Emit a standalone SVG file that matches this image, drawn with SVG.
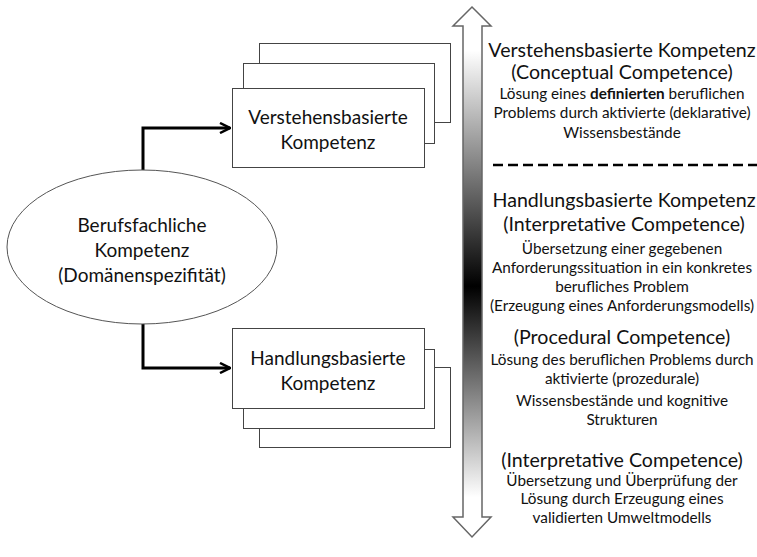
<svg xmlns="http://www.w3.org/2000/svg" width="757" height="557" viewBox="0 0 757 557">
<style>
.box{fill:#fff;stroke:#444;stroke-width:1}
.ell{fill:#fff;stroke:#555;stroke-width:1}
.conn{fill:none;stroke:#000;stroke-width:3}
.big{font-family:Lato,"Liberation Sans",sans-serif;font-size:19px;fill:#111;text-anchor:middle}
.bigr{font-family:Lato,"Liberation Sans",sans-serif;font-size:19.6px;fill:#111;text-anchor:middle}
.small{font-family:Lato,"Liberation Sans",sans-serif;font-size:15.3px;fill:#111;text-anchor:middle}
</style>
<defs>
<marker id="arr" viewBox="0 0 12 12" refX="11" refY="6" markerWidth="12" markerHeight="12" markerUnits="userSpaceOnUse" orient="auto">
<path d="M1,1 L11,6 L1,11" fill="none" stroke="#000" stroke-width="2.5"/>
</marker>
<linearGradient id="grad" gradientUnits="userSpaceOnUse" x1="0" y1="26" x2="0" y2="517">
<stop offset="0" stop-color="#fff"/>
<stop offset="0.05" stop-color="#fff"/>
<stop offset="0.53" stop-color="#000"/>
<stop offset="0.96" stop-color="#fff"/>
<stop offset="1" stop-color="#fff"/>
</linearGradient>
</defs>
<rect width="757" height="557" fill="#fff"/>

<g id="connectors">
<path class="conn" d="M143,170 V128 H230" marker-end="url(#arr)"/>
<path class="conn" d="M143,323 V368 H230" marker-end="url(#arr)"/>
</g>

<g id="node-berufsfachliche">
<ellipse class="ell" cx="142" cy="247" rx="135" ry="77"/>
<text class="big" x="142" y="232">Berufsfachliche</text>
<text class="big" x="142" y="257">Kompetenz</text>
<text class="big" x="142" y="282">(Domänenspezifität)</text>
</g>

<g id="node-verstehensbasierte">
<rect class="box" x="259.5" y="43.5" width="191" height="79"/>
<rect class="box" x="243.5" y="63.5" width="191" height="80"/>
<rect class="box" x="232.5" y="88.5" width="192" height="79"/>
<text class="big" x="328" y="124">Verstehensbasierte</text>
<text class="big" x="328" y="149">Kompetenz</text>
</g>

<g id="node-handlungsbasierte">
<rect class="box" x="259.5" y="367.5" width="191" height="80"/>
<rect class="box" x="243.5" y="349.5" width="191" height="79"/>
<rect class="box" x="232.5" y="328.5" width="192" height="80"/>
<text class="big" x="328" y="365">Handlungsbasierte</text>
<text class="big" x="328" y="390">Kompetenz</text>
</g>

<g id="scale-arrow">
<path d="M472,7 L491,26 L482,26 L482,517 L491,517 L472,537 L453,517 L463,517 L463,26 L453,26 Z" fill="url(#grad)" stroke="#666" stroke-width="1.5"/>
</g>

<g id="text-verstehens">
<text class="bigr" x="622" y="57">Verstehensbasierte Kompetenz</text>
<text class="bigr" x="622" y="79">(Conceptual Competence)</text>
<text class="small" x="622" y="99">Lösung eines <tspan font-weight="bold">definierten</tspan> beruflichen</text>
<text class="small" x="622" y="118">Problems durch aktivierte (deklarative)</text>
<text class="small" x="622" y="138">Wissensbestände</text>
</g>

<line x1="493" y1="165" x2="757" y2="165" stroke="#000" stroke-width="2.5" stroke-dasharray="10,5"/>

<g id="text-handlungs">
<text class="bigr" x="624" y="207">Handlungsbasierte Kompetenz</text>
<text class="bigr" x="624" y="231">(Interpretative Competence)</text>
<text class="small" x="622" y="254">Übersetzung einer gegebenen</text>
<text class="small" x="622" y="273">Anforderungssituation in ein konkretes</text>
<text class="small" x="622" y="292">berufliches Problem</text>
<text class="small" x="622" y="311">(Erzeugung eines Anforderungsmodells)</text>
<text class="bigr" x="622" y="344">(Procedural Competence)</text>
<text class="small" x="622" y="365">Lösung des beruflichen Problems durch</text>
<text class="small" x="622" y="384">aktivierte (prozedurale)</text>
<text class="small" x="622" y="406">Wissensbestände und kognitive</text>
<text class="small" x="622" y="425">Strukturen</text>
<text class="bigr" x="622" y="467">(Interpretative Competence)</text>
<text class="small" x="622" y="486">Übersetzung und Überprüfung der</text>
<text class="small" x="622" y="504">Lösung durch Erzeugung eines</text>
<text class="small" x="622" y="523">validierten Umweltmodells</text>
</g>
</svg>
